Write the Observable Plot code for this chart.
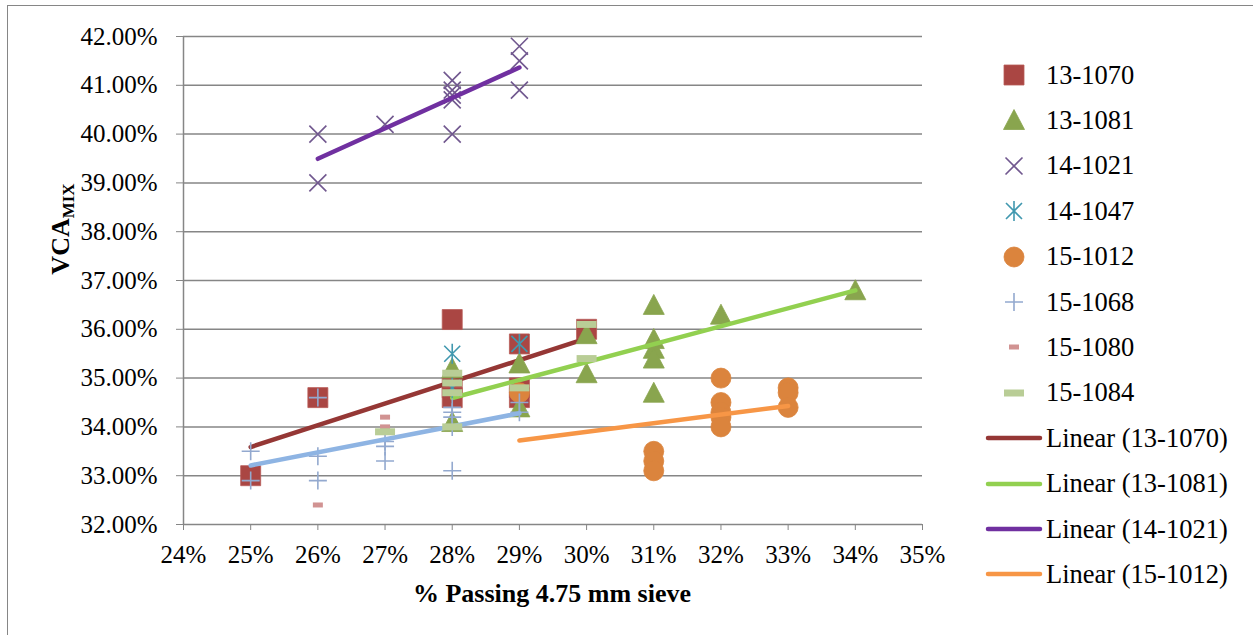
<!DOCTYPE html>
<html><head><meta charset="utf-8">
<script src="https://cdn.jsdelivr.net/npm/d3@7"></script>
<script src="https://cdn.jsdelivr.net/npm/@observablehq/plot@0.6"></script>
<style>
body{margin:0;background:#fff;font-family:"Liberation Serif","Times New Roman",serif;color:#000;}
#frame{position:absolute;left:7px;top:5px;width:1300px;height:700px;border:1.5px solid #868686;}
#chart{position:absolute;left:0;top:0;}
#ytitle{position:absolute;left:61px;top:229px;transform:translate(-50%,-50%) rotate(-90deg);font-weight:bold;font-size:26px;white-space:nowrap;line-height:1;}
#ytitle sub{font-size:17px;vertical-align:baseline;position:relative;top:5px;}
#xtitle{position:absolute;left:552px;top:594px;transform:translate(-50%,-50%);font-weight:bold;font-size:26px;white-space:nowrap;line-height:1;}
.lg{position:absolute;height:40px;display:flex;align-items:center;font-size:26.5px;white-space:nowrap;}
.lg svg{flex:none;}
</style>
</head><body>
<div id="frame"></div>
<div id="chart"></div>
<div id="ytitle">VCA<sub>MIX</sub></div>
<div id="xtitle">% Passing 4.75 mm sieve</div>
<div id="legend"></div>
<script>
// ---- data ----
const seriesNames = ["13-1070","13-1081","14-1021","14-1047","15-1012","15-1068","15-1080","15-1084"];
const xTicks = [24,25,26,27,28,29,30,31,32,33,34,35];
const yTicks = [32,33,34,35,36,37,38,39,40,41,42];

const x13_1070 = [25,26,28,28,28,29,29,29,30];
const y13_1070 = [33.0,34.6,36.2,34.8,34.6,35.7,34.8,34.6,36.0];

const x13_1081 = [28,28,29,29,30,30,31,31,31,31,31,32,34];
const y13_1081 = [35.2,34.1,35.3,34.4,35.9,35.1,36.5,35.8,35.6,35.4,34.7,36.3,36.8];

const x14_1021 = [26,26,27,28,28,28,28,28,29,29,29];
const y14_1021 = [40.0,39.0,40.2,41.1,40.9,40.8,40.7,40.0,41.8,41.5,40.9];

const x14_1047 = [28,28,29];
const y14_1047 = [35.5,34.8,35.7];

const x15_1012 = [29,31,31,31,32,32,32,32,32,33,33,33];
const y15_1012 = [34.7,33.5,33.3,33.1,35.0,34.5,34.3,34.2,34.0,34.8,34.7,34.4];

const x15_1068 = [25,25,26,26,26,27,27,27,28,28,28,28,28,29,29];
const y15_1068 = [33.5,32.9,34.6,33.4,32.9,33.7,33.6,33.3,34.4,34.3,34.2,34.0,33.1,34.5,34.3];

const x15_1080 = [26,27,27];
const y15_1080 = [32.4,34.2,34.0];

const x15_1084 = [27,28,28,28,28,29,30,30];
const y15_1084 = [33.9,35.1,34.9,34.7,34.0,34.8,36.1,35.4];

const trendSeries = ["13-1070","13-1081","14-1021","15-1012","15-1068"];
const legendTrends = ["13-1070","13-1081","14-1021","15-1012"];

const seriesX = {"13-1070":x13_1070,"13-1081":x13_1081,"14-1021":x14_1021,"14-1047":x14_1047,"15-1012":x15_1012,"15-1068":x15_1068,"15-1080":x15_1080,"15-1084":x15_1084};
const seriesY = {"13-1070":y13_1070,"13-1081":y13_1081,"14-1021":y14_1021,"14-1047":y14_1047,"15-1012":y15_1012,"15-1068":y15_1068,"15-1080":y15_1080,"15-1084":y15_1084};

// ---- styles ----
const sym = {
  square:{draw(c){c.moveTo(-10,-10);c.lineTo(10,-10);c.lineTo(10,10);c.lineTo(-10,10);c.closePath();}},
  triangle:{draw(c){c.moveTo(0,-10.5);c.lineTo(10.5,9.5);c.lineTo(-10.5,9.5);c.closePath();}},
  times:{draw(c){const a=8.5;c.moveTo(-a,-a);c.lineTo(a,a);c.moveTo(a,-a);c.lineTo(-a,a);}},
  star:{draw(c){const a=8;c.moveTo(-a,-a);c.lineTo(a,a);c.moveTo(a,-a);c.lineTo(-a,a);c.moveTo(0,-10);c.lineTo(0,10);}},
  circle:{draw(c){c.moveTo(10,0);c.arc(0,0,10,0,2*Math.PI);c.closePath();}},
  plus:{draw(c){const a=9;c.moveTo(-a,0);c.lineTo(a,0);c.moveTo(0,-a);c.lineTo(0,a);}},
  dashS:{draw(c){c.moveTo(-5,-2.5);c.lineTo(5,-2.5);c.lineTo(5,2.5);c.lineTo(-5,2.5);c.closePath();}},
  dashL:{draw(c){c.moveTo(-10,-3.5);c.lineTo(10,-3.5);c.lineTo(10,3.5);c.lineTo(-10,3.5);c.closePath();}}
};
const markerStyle = {
  "13-1070":{symbol:sym.square,fill:"#AA4643",stroke:"#B85A57",strokeWidth:0.8},
  "13-1081":{symbol:sym.triangle,fill:"#89A54E",stroke:"#89A54E",strokeWidth:0.8},
  "14-1021":{symbol:sym.times,fill:"none",stroke:"#71588F",strokeWidth:1.6},
  "14-1047":{symbol:sym.star,fill:"none",stroke:"#4198AF",strokeWidth:1.6},
  "15-1012":{symbol:sym.circle,fill:"#DB843D",stroke:"#DB843D",strokeWidth:0.8},
  "15-1068":{symbol:sym.plus,fill:"none",stroke:"#93A9CF",strokeWidth:1.6},
  "15-1080":{symbol:sym.dashS,fill:"#D19392",stroke:"none",strokeWidth:0},
  "15-1084":{symbol:sym.dashL,fill:"#B9CD96",stroke:"none",strokeWidth:0}
};
const trendColor = {"13-1070":"#953735","13-1081":"#92D050","14-1021":"#7030A0","15-1012":"#F79646","15-1068":"#8EB4E3"};
const grid = "#868686";
const serif = "Liberation Serif, Times New Roman, serif";

// ---- build ----
const rows = Object.fromEntries(seriesNames.map(n => [n, seriesX[n].map((x,i)=>({series:n, x, y:seriesY[n][i]}))]));

const marks = [
  Plot.ruleY(yTicks, {stroke:grid, strokeWidth:1.5}),
  Plot.ruleX([24], {stroke:grid, strokeWidth:1.5}),
  Plot.axisY({ticks:yTicks, tickSize:7, tickPadding:19, tickFormat:d=>d.toFixed(2)+"%", stroke:grid, label:null, fontFamily:serif}),
  Plot.axisX({ticks:xTicks, tickSize:6, tickPadding:15, tickFormat:d=>d+"%", stroke:grid, label:null, fontFamily:serif})
];
for (const n of seriesNames) {
  const s = markerStyle[n];
  marks.push(Plot.dot(rows[n], {x:"x", y:"y", symbol:s.symbol, fill:s.fill, stroke:s.stroke, strokeWidth:s.strokeWidth}));
  if (trendSeries.includes(n)) {
    marks.push(Plot.linearRegressionY(rows[n], {x:"x", y:"y", stroke:trendColor[n], strokeWidth:4.5, strokeLinecap:"round", ci:0}));
  }
}

const chart = Plot.plot({
  width:960, height:635,
  marginLeft:183, marginRight:38, marginTop:36, marginBottom:111,
  x:{domain:[24,35], label:null},
  y:{domain:[32,42], label:null},
  style:{fontFamily:serif, fontSize:"25px", color:"#000", background:"transparent", overflow:"visible"},
  marks
});
document.getElementById("chart").appendChild(chart);

// ---- legend ----
const legend = document.getElementById("legend");
const ns = "http://www.w3.org/2000/svg";
const entries = [
  ...seriesNames.map(n => ({label:n, kind:"marker", n})),
  ...legendTrends.map(n => ({label:`Linear (${n})`, kind:"line", n}))
];
entries.forEach((e, i) => {
  const cy = 75 + i * 45.4;
  const div = document.createElement("div");
  div.className = "lg";
  div.style.left = "985px";
  div.style.top = (cy - 20) + "px";
  const svg = document.createElementNS(ns, "svg");
  svg.setAttribute("width", 61); svg.setAttribute("height", 40);
  if (e.kind === "marker") {
    const s = markerStyle[e.n];
    const p = d3.path(); s.symbol.draw(p);
    const path = document.createElementNS(ns, "path");
    path.setAttribute("d", p.toString());
    path.setAttribute("transform", "translate(29,20)");
    path.setAttribute("fill", s.fill); path.setAttribute("stroke", s.stroke);
    path.setAttribute("stroke-width", s.strokeWidth);
    svg.appendChild(path);
  } else {
    const l = document.createElementNS(ns, "line");
    l.setAttribute("x1", 3); l.setAttribute("x2", 55); l.setAttribute("y1", 20); l.setAttribute("y2", 20);
    l.setAttribute("stroke", trendColor[e.n]); l.setAttribute("stroke-width", 4.5); l.setAttribute("stroke-linecap", "round");
    svg.appendChild(l);
  }
  div.appendChild(svg);
  const sp = document.createElement("span");
  sp.textContent = e.label;
  div.appendChild(sp);
  legend.appendChild(div);
});
</script>
</body></html>
